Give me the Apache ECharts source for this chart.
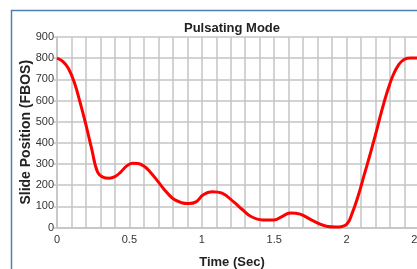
<!DOCTYPE html>
<html>
<head>
<meta charset="utf-8">
<script src="https://cdn.jsdelivr.net/npm/echarts@6/dist/echarts.min.js"></script>
<style>
  html, body { margin: 0; padding: 0; background: #fff; }
  #chart { width: 417px; height: 269px; }
</style>
</head>
<body>
<div id="chart"></div>
<script>
// slide position over one pulsating cycle
const timeSec = [0, 0.04, 0.08, 0.12, 0.16, 0.2, 0.24, 0.28, 0.32, 0.36, 0.4, 0.44, 0.48, 0.52, 0.56,
  0.6, 0.64, 0.69, 0.74, 0.8, 0.86, 0.91, 0.96, 1.01, 1.07, 1.14, 1.22, 1.28, 1.34, 1.42, 1.5, 1.55, 1.61, 1.68,
  1.77, 1.86, 1.93, 2.0, 2.04, 2.08, 2.12, 2.16, 2.2, 2.24, 2.28, 2.32, 2.36, 2.4, 2.44, 2.5];
const position = [800, 785, 750, 685, 590, 485, 370, 262, 237, 233, 240, 262, 290, 303, 302,
  290, 265, 224, 180, 137, 117, 113, 121, 155, 169, 162, 121, 85, 52, 36, 36, 50, 69, 63,
  31, 6, 2, 15, 70, 150, 245, 340, 440, 545, 640, 718, 770, 795, 801, 801];
const yTicks = { min: 0, max: 900, step: 100 };
const xTicks = { min: 0, max: 2.5, step: 0.1, labelEvery: 0.5 };

const font = '"Liberation Sans", Arial, sans-serif';
const chart = echarts.init(document.getElementById('chart'), null, { renderer: 'canvas' });

chart.setOption({
  animation: false,
  backgroundColor: '#fff',
  graphic: [{
    type: 'polyline',
    shape: { points: [[11.5, 269], [11.5, 10.5], [417, 10.5]] },
    style: { stroke: '#4f7fb0', lineWidth: 1.5, fill: null },
    silent: true
  }],
  title: [{
    text: 'Pulsating Mode',
    left: 227, top: 17, textAlign: 'center',
    textStyle: { fontFamily: font, fontSize: 13, fontWeight: 'bold', color: '#222' }
  }, {
    text: 'Time (Sec)',
    left: 227, top: 251, textAlign: 'center',
    textStyle: { fontFamily: font, fontSize: 13, fontWeight: 'bold', color: '#222' }
  }],
  grid: { left: 57, top: 37, width: 362, height: 190.5, containLabel: false, outerBoundsMode: 'none' },
  xAxis: {
    type: 'value',
    min: xTicks.min, max: xTicks.max, interval: xTicks.step,
    axisLine: { show: true, lineStyle: { color: '#c4c4c4', width: 1.5 } },
    axisTick: { show: false },
    splitLine: { show: true, lineStyle: { color: '#c4c4c4', width: 1.5 } },
    axisLabel: {
      margin: 7, color: '#333', fontFamily: font, fontSize: 11,
      formatter: v => {
        const k = Math.round(v * 10);
        return k % Math.round(xTicks.labelEvery * 10) === 0 ? String(k / 10) : '';
      }
    }
  },
  yAxis: {
    type: 'value',
    min: yTicks.min, max: yTicks.max, interval: yTicks.step,
    name: 'Slide Position (FBOS)',
    nameLocation: 'middle', nameGap: 24, nameRotate: 90, nameMoveOverlap: false,
    nameTextStyle: { fontFamily: font, fontSize: 14, fontWeight: 'bold', color: '#222' },
    axisLine: { show: true, lineStyle: { color: '#c4c4c4', width: 1.5 } },
    axisTick: { show: true, length: 3, lineStyle: { color: '#c4c4c4', width: 1.5 } },
    splitLine: { show: true, lineStyle: { color: '#c4c4c4', width: 1.5 } },
    axisLabel: { margin: 3, color: '#333', fontFamily: font, fontSize: 11 }
  },
  series: [{
    type: 'line',
    data: timeSec.map((t, i) => [t, position[i]]),
    smooth: 0.4,
    showSymbol: false,
    lineStyle: { color: '#ff0000', width: 3 },
    clip: false
  }]
});
</script>
</body>
</html>
